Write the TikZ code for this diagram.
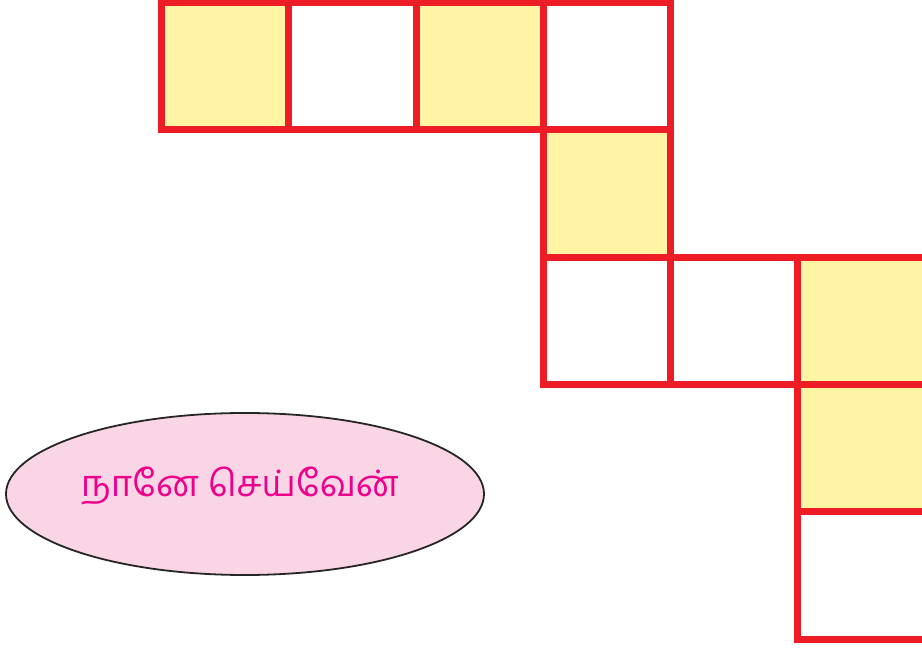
\documentclass[tikz,border=0pt]{standalone}
\usepackage{fontspec}
\newfontfamily\tamilfont[Script=Tamil]{Hind Madurai}
\definecolor{boxred}{HTML}{EE1C25}
\definecolor{boxyellow}{HTML}{FFF5A5}
\definecolor{ovalpink}{HTML}{F9D5E5}
\definecolor{textpink}{HTML}{EC008C}
\usetikzlibrary{shapes.geometric}

\begin{document}
\begin{tikzpicture}[x=1pt, y=-1pt, cell/.style={draw=boxred, line width=7pt, minimum size=127.3pt, inner sep=0pt}, lit/.style={cell, fill=boxyellow}, oval/.style={ellipse, draw=black!85, line width=1.8pt, fill=ovalpink, minimum width=478pt, minimum height=162pt, inner sep=0pt}]
	\useasboundingbox (0,0) rectangle (922,650);
	% top row
	\node[lit]  (a1) at (225.2,66.2) {};
	\node[cell] (a2) at (352.4,66.2) {};
	\node[lit]  (a3) at (479.7,66.2) {};
	\node[cell] (a4) at (607.0,66.2) {};
	% going down
	\node[lit]  (b4) at (607.0,193.5) {};
	\node[cell] (c4) at (607.0,320.8) {};
	\node[cell] (c5) at (734.3,320.8) {};
	\node[lit]  (c6) at (861.6,320.8) {};
	\node[lit]  (d6) at (861.6,448.1) {};
	\node[cell] (e6) at (861.6,575.4) {};
	% label
	\node[oval] (tag) at (245,494) {};
	\node[font=\tamilfont\fontsize{36.5}{40}\selectfont, text=textpink] (say) at (240,486) {நானே செய்வேன்};
\end{tikzpicture}
\end{document}
